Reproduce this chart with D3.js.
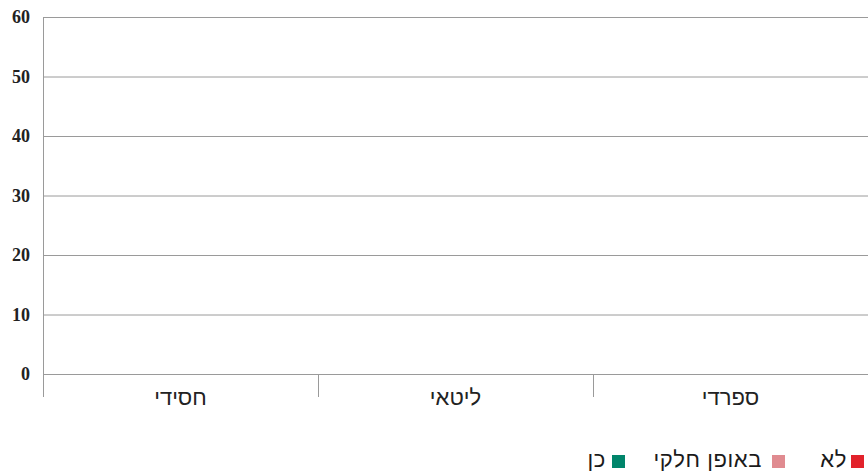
<!DOCTYPE html>
<html><head><meta charset="utf-8">
<script src="https://d3js.org/d3.v7.min.js"></script>
<style>body{margin:0;background:#fff}svg{display:block}</style>
</head><body>
<script>
const categories = ["חסידי", "ליטאי", "ספרדי"];
const seriesNames = ["לא", "באופן חלקי", "כן"];
const seriesColors = ["#e2222b", "#e08b90", "#00856b"];
const valuesNo = [0, 0, 0];
const valuesPartly = [0, 0, 0];
const valuesYes = [0, 0, 0];
const yTicks = [0, 10, 20, 30, 40, 50, 60];

const W = 868, H = 476;
const m = {left: 43, right: 0, top: 17, bottom: 102};
const svg = d3.select("body").append("svg").attr("width", W).attr("height", H);

const x = d3.scaleBand().domain(categories).range([m.left, W - m.right]);
const y = d3.scaleLinear().domain([0, 60]).range([H - m.bottom, m.top]);

// grid
svg.append("g").selectAll("line").data(yTicks).join("line")
  .attr("x1", m.left).attr("x2", W).attr("y1", d => y(d) + 0.5).attr("y2", d => y(d) + 0.5)
  .attr("stroke", "#9a9a9a").attr("stroke-width", 1);

// y labels
svg.append("g").selectAll("text").data(yTicks).join("text")
  .attr("x", 30).attr("y", d => y(d) + 6)
  .attr("text-anchor", "end")
  .attr("font-family", "Liberation Serif, Times New Roman, serif")
  .attr("font-weight", "bold").attr("font-size", 18).attr("fill", "#222")
  .text(d => d);

// y axis line
svg.append("line").attr("x1", m.left + 0.5).attr("x2", m.left + 0.5)
  .attr("y1", y(60)).attr("y2", y(0) + 23).attr("stroke", "#9a9a9a");

// category separators
const seps = categories.slice(1).map(c => x(c));
svg.append("g").selectAll("line").data(seps).join("line")
  .attr("x1", d => Math.round(d) + 0.5).attr("x2", d => Math.round(d) + 0.5)
  .attr("y1", y(0)).attr("y2", y(0) + 23).attr("stroke", "#9a9a9a");

// bars (grouped)
const series = [valuesNo, valuesPartly, valuesYes];
const xs = d3.scaleBand().domain(d3.range(series.length)).range([0, x.bandwidth()]).padding(0.1).paddingOuter(1);
series.forEach((vals, si) => {
  svg.append("g").selectAll("rect").data(vals).join("rect")
    .attr("x", (d, i) => x(categories[i]) + xs(series.length - 1 - si))
    .attr("width", xs.bandwidth())
    .attr("y", d => y(d)).attr("height", d => y(0) - y(d))
    .attr("fill", seriesColors[si]);
});

// x labels
svg.append("g").selectAll("text").data(categories).join("text")
  .attr("x", d => x(d) + x.bandwidth() / 2).attr("y", 405)
  .attr("text-anchor", "middle").attr("direction", "rtl")
  .attr("font-family", "Liberation Sans, Arial, sans-serif")
  .attr("font-size", 22).attr("fill", "#222")
  .text(d => d);

// legend (RTL)
const legendItems = [
  {name: seriesNames[0], color: seriesColors[0], sq: 851, tx: 847},
  {name: seriesNames[1], color: seriesColors[1], sq: 772, tx: 762},
  {name: seriesNames[2], color: seriesColors[2], sq: 612, tx: 606}
];
const lg = svg.append("g");
legendItems.forEach(it => {
  lg.append("text").attr("x", it.tx).attr("y", 467).attr("text-anchor", "end")
    .attr("font-family", "Liberation Sans, Arial, sans-serif")
    .attr("letter-spacing", 0.6)
    .attr("font-size", 22).attr("fill", "#1a1a1a").text(it.name);
  lg.append("rect").attr("x", it.sq).attr("y", 455).attr("width", 13).attr("height", 13).attr("fill", it.color);
});
</script>
</body></html>
